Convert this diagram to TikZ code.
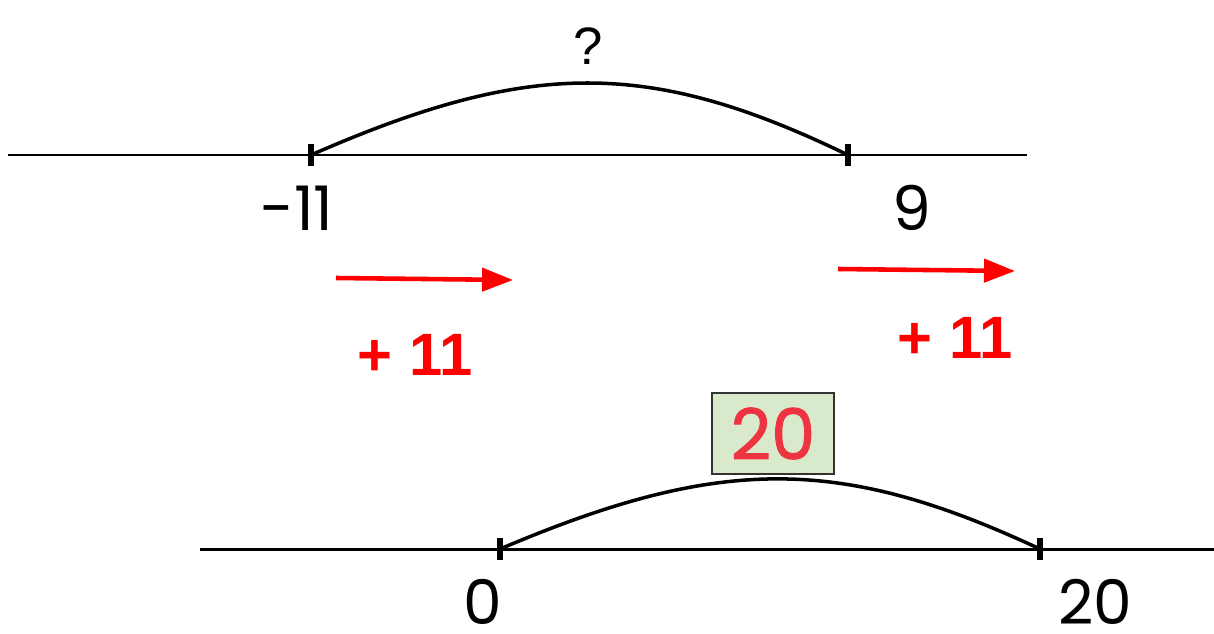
\documentclass[tikz,border=0pt]{standalone}
\usepackage{fontspec}
\usetikzlibrary{arrows.meta, positioning, calc}
\newfontfamily\numfont{Poppins}
\newfontfamily\sumfont[FakeBold=1.3]{Poppins}
\newfontfamily\arialfont{Liberation Sans}
\definecolor{shiftRed}{HTML}{FF0000}
\definecolor{sumRed}{HTML}{EE3440}
\definecolor{sumFill}{HTML}{D9E9CB}
\definecolor{sumEdge}{HTML}{333333}

\begin{document}
\begin{tikzpicture}[
    axis/.style={line width=1.7pt, black},
    tickmark/.style={line width=3.4pt, black},
    jump/.style={line width=2pt, black},
    shiftarrow/.style={line width=2.6pt, shiftRed,
                 -{Triangle[length=0.62cm, width=0.46cm]}},
    numlabel/.style={font=\numfont\fontsize{35}{40}\selectfont, inner sep=0pt},
    shiftlabel/.style={font=\arialfont\bfseries\fontsize{34}{38}\selectfont,
                 text=shiftRed, inner sep=0pt},
    sumbox/.style={rectangle, draw=sumEdge, fill=sumFill, line width=1pt,
                 minimum width=2.44cm, minimum height=1.62cm, inner sep=0pt,
                 font=\sumfont\fontsize{40}{44}\selectfont, text=sumRed},
  ]
    \useasboundingbox (0,0) rectangle (24.28,12.66);

    % upper number line
    \coordinate (topL) at (0.16,9.56);
    \coordinate (topR) at (20.54,9.56);
    \coordinate (tMinus) at (6.22,9.56);
    \coordinate (tNine) at (16.96,9.56);
    \draw[axis] (topL) -- (topR);
    \draw[tickmark] ([yshift=-0.22cm]tMinus) -- ([yshift=0.22cm]tMinus);
    \draw[tickmark] ([yshift=-0.22cm]tNine) -- ([yshift=0.22cm]tNine);
    \draw[jump] (tMinus) .. controls +(4.38,1.92) and +(-3.96,1.92) .. (tNine);
    \node[font=\arialfont\fontsize{30}{34}\selectfont, inner sep=0pt] (ask) at (11.76,11.74) {?};
    \node[numlabel] (lMinus) at ([xshift=-0.28cm, yshift=-1.06cm]tMinus) {-11};
    \node[numlabel] (lNine) at ([xshift=1.28cm, yshift=-1.06cm]tNine) {9};

    % shifts
    \coordinate (s1a) at (6.72,7.10);
    \coordinate (s1b) at (10.26,7.06);
    \coordinate (s2a) at (16.76,7.28);
    \coordinate (s2b) at (20.30,7.24);
    \draw[shiftarrow] (s1a) -- (s1b);
    \draw[shiftarrow] (s2a) -- (s2b);
    \node[shiftlabel] (add1) at (8.30,5.56) {+ 11};
    \node[shiftlabel] (add2) at (19.10,5.90) {+ 11};

    % lower number line
    \coordinate (botL) at (4.00,1.68);
    \coordinate (botR) at (24.28,1.68);
    \coordinate (tZero) at (10.00,1.68);
    \coordinate (tTwenty) at (20.80,1.68);
    \draw[axis] (botL) -- (botR);
    \draw[tickmark] ([yshift=-0.22cm]tZero) -- ([yshift=0.22cm]tZero);
    \draw[tickmark] ([yshift=-0.22cm]tTwenty) -- ([yshift=0.22cm]tTwenty);
    \draw[jump] (tZero) .. controls +(4.40,1.87) and +(-4.00,1.87) .. (tTwenty);
    \node[sumbox] (total) at (15.46,3.99) {20};
    \node[numlabel, anchor=base, text depth=0pt] (lZero) at ([xshift=-0.34cm, yshift=-1.50cm]tZero) {0};
    \node[numlabel, anchor=base, text depth=0pt] (lTwenty) at ([xshift=1.10cm, yshift=-1.50cm]tTwenty) {20};
\end{tikzpicture}
\end{document}
